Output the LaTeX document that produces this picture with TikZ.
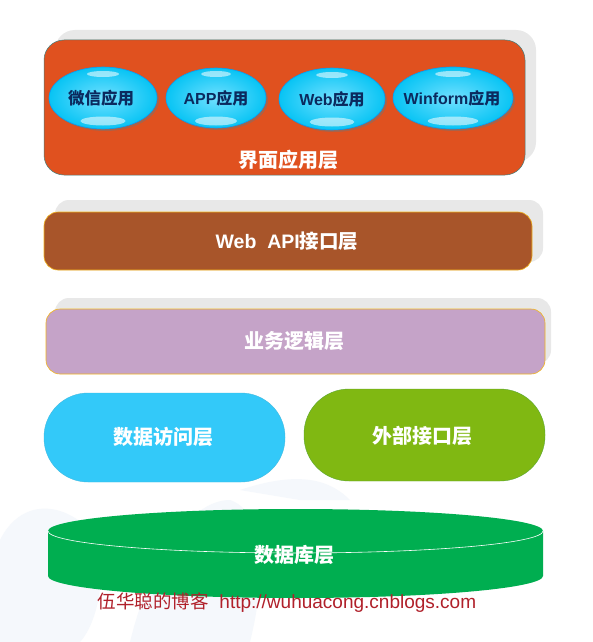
\documentclass[tikz,border=0pt]{standalone}
\usepackage{fontspec}
\setmainfont{Liberation Sans}
\newfontfamily\cjk{Noto Sans CJK SC}
\usetikzlibrary{shapes.geometric,shadows}
\definecolor{uiorange}{HTML}{E0511F}
\definecolor{apibrown}{HTML}{A8552A}
\definecolor{bizpurple}{HTML}{C5A3C8}
\definecolor{dalblue}{HTML}{33C9F9}
\definecolor{extgreen}{HTML}{80B812}
\definecolor{dbgreen}{HTML}{00AE50}
\definecolor{shadowgray}{HTML}{E8E8E8}
\definecolor{bordergold}{HTML}{F2B51C}
\definecolor{appcyan}{HTML}{08C4F4}
\definecolor{applight}{HTML}{70E0FF}
\definecolor{appnavy}{HTML}{0B2A5E}
\definecolor{footred}{HTML}{B0202A}
\definecolor{wmblue}{HTML}{F5F8FC}
\tikzset{
  layertext/.style={text=white, font=\cjk\bfseries\fontsize{20}{22}\selectfont},
  appell/.style={ellipse, draw=appcyan!80!blue, line width=0.6pt, inner color=applight, outer color=appcyan,
     drop shadow={shadow xshift=2pt, shadow yshift=-2pt, fill=black!55, opacity=0.5},
     inner sep=0pt},
  apptext/.style={text=appnavy, font=\bfseries\fontsize{16}{18}\selectfont},
  hilite/.style={ellipse, fill=white, opacity=0.55, draw=none, inner sep=0pt},
}
\begin{document}
\begin{tikzpicture}[x=1pt,y=-1pt]
\useasboundingbox (0,0) rectangle (593,642);
\fill[white] (0,0) rectangle (593,642);
% faint watermark
\fill[wmblue] (0,540) .. controls (20,500) and (60,500) .. (90,530) .. controls (110,560) and (100,620) .. (80,642) -- (0,642) -- cycle;
\fill[wmblue] (130,642) .. controls (150,560) and (190,500) .. (230,500) .. controls (260,510) and (270,560) .. (250,642) -- cycle;
\fill[wmblue] (240,490) .. controls (300,470) and (330,480) .. (350,500) -- (300,500) -- cycle;

% top layer
\fill[shadowgray, rounded corners=20pt] (55,30) rectangle (536,162);
\node[draw=teal!50!gray, line width=0.5pt, fill=uiorange, rounded corners=20pt, minimum width=481pt, minimum height=135pt, inner sep=0pt] (ui) at (284.5,107.5) {};
\node[layertext] (uit) at (288,160) {界面应用层};

\node[appell, minimum width=108pt, minimum height=62pt] (wx) at (103,98) {};
\node[appell, minimum width=100pt, minimum height=60pt] (app) at (216,98) {};
\node[appell, minimum width=106pt, minimum height=62pt] (web) at (332,99) {};
\node[appell, minimum width=120pt, minimum height=62pt] (winf) at (453,98) {};
\foreach \n/\w in {wx/108,app/100,web/106,winf/120}{
  \node[hilite, minimum width=0.42*\w pt, minimum height=9pt] at ([yshift=-23pt]\n.center) {};
  \node[hilite, minimum width=0.30*\w pt, minimum height=6pt] at ([yshift=24pt]\n.center) {};
}
\node[apptext, font=\cjk\bfseries\fontsize{16.5}{18}\selectfont] (wxt) at (101,98) {微信应用};
\node[apptext] (appt) at (216,98) {APP{\cjk 应用}};
\node[apptext] (webt) at (332,99) {Web{\cjk 应用}};
\node[apptext] (winft) at (452,98) {Winform{\cjk 应用}};

% Web API layer
\fill[shadowgray, rounded corners=14pt] (55,200) rectangle (543,262);
\node[draw=bordergold, line width=0.6pt, fill=apibrown, rounded corners=14pt, minimum width=488pt, minimum height=58pt, inner sep=0pt] (api) at (288,241) {};
\node[text=white, font=\bfseries\fontsize{19.5}{21}\selectfont] (apit) at (287,241) {Web\ \ API{\cjk 接口层}};

% business layer
\fill[shadowgray, rounded corners=14pt] (55,298) rectangle (551,364);
\node[draw=bordergold, line width=0.6pt, fill=bizpurple, rounded corners=14pt, minimum width=499pt, minimum height=65pt, inner sep=0pt] (biz) at (295.5,341.5) {};
\node[layertext] (bizt) at (294,341) {业务逻辑层};

% data access & external
\node[draw=dalblue!80!gray, line width=0.4pt, fill=dalblue, rounded corners=44pt, minimum width=241pt, minimum height=89pt, inner sep=0pt] (dal) at (164.5,437.5) {};
\node[layertext] (dalt) at (163,437) {数据访问层};
\node[draw=extgreen!70!teal, line width=0.4pt, fill=extgreen, rounded corners=45pt, minimum width=241pt, minimum height=92pt, inner sep=0pt] (ext) at (424.5,435) {};
\node[layertext] (extt) at (422,436) {外部接口层};

% database cylinder
\fill[dbgreen] (48,531) -- (48,576) arc[start angle=180, end angle=360, x radius=247.5pt, y radius=22pt] -- (543,531) arc[start angle=0, end angle=180, x radius=247.5pt, y radius=22pt] -- cycle;
\draw[white, line width=0.6pt] (48,531) arc[start angle=180, end angle=360, x radius=247.5pt, y radius=22pt];
\node[layertext] (dbt) at (294,555) {数据库层};

\node[text=footred, font=\fontsize{19}{21}\selectfont] (foot) at (287,603) {{\cjk\fontsize{18.5}{21}\selectfont 伍华聪的博客}\ \ http://wuhuacong.cnblogs.com};
\end{tikzpicture}
\end{document}
